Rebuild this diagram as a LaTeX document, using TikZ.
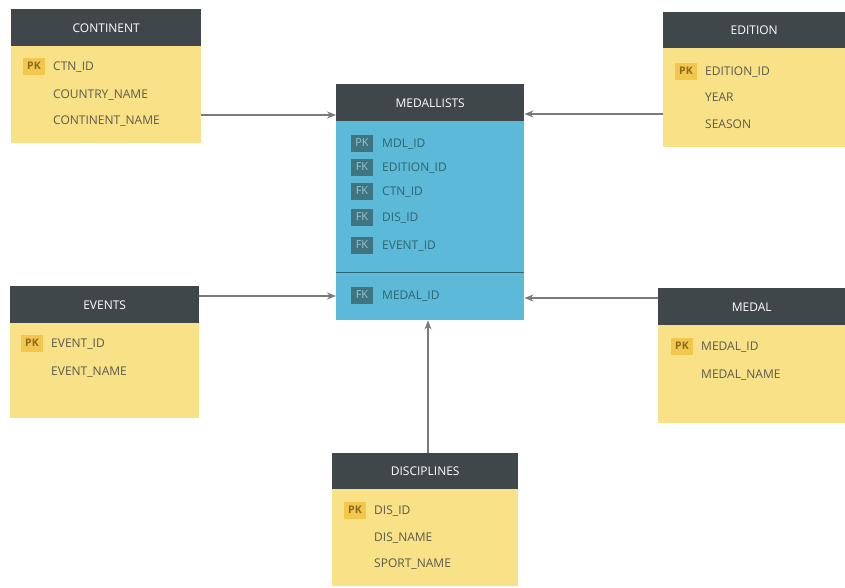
\documentclass[tikz,border=0pt]{standalone}
\usepackage{fontspec}
\setmainfont{Open Sans}
\usetikzlibrary{arrows.meta}
\definecolor{hdr}{HTML}{3F474A}
\definecolor{ybody}{HTML}{F9E188}
\definecolor{bbody}{HTML}{5CBAD8}
\definecolor{pkfill}{HTML}{F3C64E}
\definecolor{pktext}{HTML}{8A6A1E}
\definecolor{fkfill}{HTML}{3F7580}
\definecolor{fktext}{HTML}{9CC6CE}
\definecolor{ytext}{HTML}{5A5A4A}
\definecolor{btext}{HTML}{2F6470}
\definecolor{linkc}{HTML}{7A7A7A}
\tikzset{
  hdrbox/.style={fill=hdr, draw=none, inner sep=0pt, text=white, font=\fontsize{12}{13}\selectfont},
  hdrtext/.style={inner sep=0pt, text=white, font=\fontsize{12}{13}\selectfont, anchor=base},
  bodybox/.style={draw=none, inner sep=0pt},
  pkbadge/.style={fill=pkfill, text=pktext, inner sep=0pt, minimum width=22pt, minimum height=17pt, font=\bfseries\fontsize{10.5}{12}\selectfont},
  fkbadge/.style={fill=fkfill, text=fktext, inner sep=0pt, minimum width=22pt, minimum height=17pt, font=\fontsize{11}{12}\selectfont},
  yfield/.style={anchor=base west, inner sep=0pt, text=ytext, font=\fontsize{12}{13}\selectfont},
  bfield/.style={anchor=base west, inner sep=0pt, text=btext, font=\fontsize{12}{13}\selectfont},
  link/.style={draw=linkc, line width=1.5pt, -{Stealth[length=9pt,width=7pt]}},
}
\begin{document}
\begin{tikzpicture}[x=1pt,y=-1pt]
\useasboundingbox[fill=white] (0,0) rectangle (845,587);

% CONTINENT
\node[fill=ybody, bodybox, minimum width=190pt, minimum height=97pt, anchor=north west] (contb) at (11,46) {};
\node[hdrbox, minimum width=190pt, minimum height=37pt, anchor=north west] (conth) at (11,9) {};
\node[hdrtext] (contt) at ([yshift=-4.5pt]conth.center) {CONTINENT};
\node[pkbadge] (contpk) at (34,66) {PK};
\node[yfield] (contf1) at (53,70.5) {CTN\_ID};
\node[yfield] (contf2) at (53,98.5) {COUNTRY\_NAME};
\node[yfield] (contf3) at (53,124.5) {CONTINENT\_NAME};

% EDITION
\node[fill=ybody, bodybox, minimum width=182pt, minimum height=99pt, anchor=north west] (editb) at (663,48) {};
\node[hdrbox, minimum width=182pt, minimum height=36pt, anchor=north west] (edith) at (663,12) {};
\node[hdrtext] (editt) at ([yshift=-4.5pt]edith.center) {EDITION};
\node[pkbadge] (editpk) at (686,71) {PK};
\node[yfield] (editf1) at (705,75.5) {EDITION\_ID};
\node[yfield] (editf2) at (705,101.5) {YEAR};
\node[yfield] (editf3) at (705,128.5) {SEASON};

% MEDALLISTS
\node[fill=bbody, bodybox, minimum width=188pt, minimum height=199pt, anchor=north west] (medlb) at (336,121) {};
\node[hdrbox, minimum width=188pt, minimum height=37pt, anchor=north west] (medlh) at (336,84) {};
\node[hdrtext] (medlt) at ([yshift=-4.5pt]medlh.center) {MEDALLISTS};
\node[fkbadge] (medlk1) at (362,143) {PK};
\node[fkbadge] (medlk2) at (362,167) {FK};
\node[fkbadge] (medlk3) at (362,191) {FK};
\node[fkbadge] (medlk4) at (362,217) {FK};
\node[fkbadge] (medlk5) at (362,245) {FK};
\node[fkbadge] (medlk6) at (362,295) {FK};
\node[bfield] (medlf1) at (382,147.5) {MDL\_ID};
\node[bfield] (medlf2) at (382,171.5) {EDITION\_ID};
\node[bfield] (medlf3) at (382,195.5) {CTN\_ID};
\node[bfield] (medlf4) at (382,221.5) {DIS\_ID};
\node[bfield] (medlf5) at (382,249.5) {EVENT\_ID};
\node[bfield] (medlf6) at (382,299.5) {MEDAL\_ID};
\draw[draw=btext, line width=0.8pt] (medlb.west |- 0,272) -- (medlb.east |- 0,272);

% EVENTS
\node[fill=ybody, bodybox, minimum width=189pt, minimum height=95pt, anchor=north west] (evb) at (10,323) {};
\node[hdrbox, minimum width=189pt, minimum height=37pt, anchor=north west] (evh) at (10,286) {};
\node[hdrtext] (evt) at ([yshift=-4.5pt]evh.center) {EVENTS};
\node[pkbadge] (evpk) at (32,343) {PK};
\node[yfield] (evf1) at (51,347.5) {EVENT\_ID};
\node[yfield] (evf2) at (51,375.5) {EVENT\_NAME};

% MEDAL
\node[fill=ybody, bodybox, minimum width=187pt, minimum height=98pt, anchor=north west] (medb) at (658,325) {};
\node[hdrbox, minimum width=187pt, minimum height=37pt, anchor=north west] (medh) at (658,288) {};
\node[hdrtext] (medt) at ([yshift=-4.5pt]medh.center) {MEDAL};
\node[pkbadge] (medpk) at (682,346) {PK};
\node[yfield] (medf1) at (701,350.5) {MEDAL\_ID};
\node[yfield] (medf2) at (701,378.5) {MEDAL\_NAME};

% DISCIPLINES
\node[fill=ybody, bodybox, minimum width=186pt, minimum height=97pt, anchor=north west] (disb) at (332,489) {};
\node[hdrbox, minimum width=186pt, minimum height=36pt, anchor=north west] (dish) at (332,453) {};
\node[hdrtext] (dist) at ([yshift=-4.5pt]dish.center) {DISCIPLINES};
\node[pkbadge] (dispk) at (355,510) {PK};
\node[yfield] (disf1) at (374,514.5) {DIS\_ID};
\node[yfield] (disf2) at (374,541.5) {DIS\_NAME};
\node[yfield] (disf3) at (374,567.5) {SPORT\_NAME};

% relationships
\draw[link] (contb.east |- 0,115) -- (medlb.west |- 0,115);
\draw[link] (editb.west |- 0,114) -- (medlb.east |- 0,114);
\draw[link] (evh.east |- 0,296) -- (medlb.west |- 0,296);
\draw[link] (medh.west |- 0,298) -- (medlb.east |- 0,298);
\draw[link] (dish.north -| 428,0) -- (medlb.south -| 428,0);
\end{tikzpicture}
\end{document}
